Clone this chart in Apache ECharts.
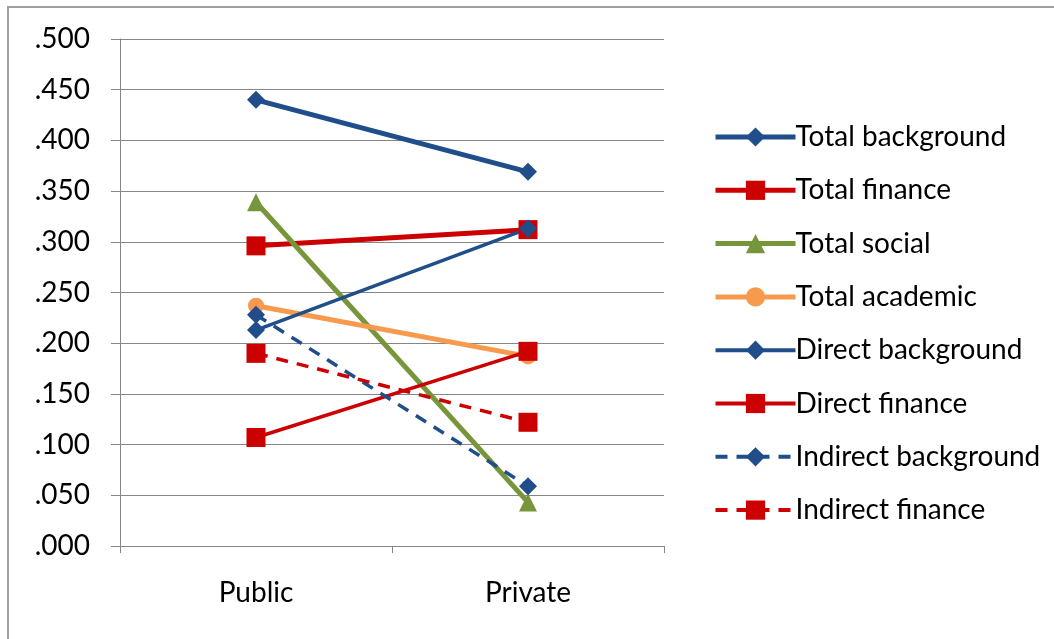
<!DOCTYPE html>
<html>
<head>
<meta charset="utf-8">
<script src="https://cdn.jsdelivr.net/npm/echarts@6/dist/echarts.min.js"></script>
<style>
  html, body { margin: 0; padding: 0; background: #fff; }
  #chart { width: 1054px; height: 639px; }
</style>
</head>
<body>
<div id="chart"></div>
<script>
// Sector categories on the x axis
const categories = ['Public', 'Private'];

// Effect sizes per sector
const totalBackground    = [0.440, 0.369];
const totalFinance       = [0.296, 0.312];
const totalSocial        = [0.339, 0.043];
const totalAcademic      = [0.237, 0.187];
const directBackground   = [0.213, 0.313];
const directFinance      = [0.107, 0.192];
const indirectBackground = [0.228, 0.059];
const indirectFinance    = [0.190, 0.122];

const seriesNames = [
  'Total background', 'Total finance', 'Total social', 'Total academic',
  'Direct background', 'Direct finance', 'Indirect background', 'Indirect finance'
];

const BLUE = '#1F4E8A';
const RED = '#CC0000';
const GREEN = '#77963C';
const ORANGE = '#F79A4E';
const FONT = 'Lato, "Open Sans", sans-serif';
const DASH = [12, 9];

function line(name, data, color, symbol, size, width, dashed) {
  return {
    name, type: 'line', data,
    symbol, symbolSize: size,
    itemStyle: { color },
    lineStyle: { color, width, type: dashed ? DASH : 'solid' },
    emphasis: { disabled: true },
    animation: false
  };
}

// Legend entries carry the same stroke weight and dash as their series
const legendWidths = [5, 5, 5, 5, 4, 4, 4, 4];
const legendDashed = [false, false, false, false, false, false, true, true];
const legendData = seriesNames.map((name, i) => ({
  name,
  lineStyle: { width: legendWidths[i], type: legendDashed[i] ? DASH : 'solid' }
}));

const chart = echarts.init(document.getElementById('chart'), null, { renderer: 'canvas' });
chart.setOption({
  backgroundColor: '#fff',
  animation: false,
  graphic: [{
    type: 'rect',
    shape: { x: 8, y: 7, width: 1100, height: 700 },
    style: { fill: 'none', stroke: '#a0a0a0', lineWidth: 2 }
  }],
  grid: { left: 120, right: 390, top: 39, bottom: 93 },
  legend: {
    orient: 'vertical',
    left: 708, top: 117,
    itemWidth: 80, itemHeight: 24,
    itemGap: 23.3,
    data: legendData,
    textStyle: { fontFamily: FONT, fontSize: 28, color: '#000', lineHeight: 30, padding: [0, 0, 0, -5] }
  },
  xAxis: {
    type: 'category',
    data: categories,
    boundaryGap: true,
    axisLine: { lineStyle: { color: '#868686', width: 1 } },
    axisTick: { show: true, length: 7, alignWithLabel: false, lineStyle: { color: '#868686' } },
    axisLabel: { fontFamily: FONT, fontSize: 28, color: '#000', margin: 33 }
  },
  yAxis: {
    type: 'value',
    min: 0, max: 0.5, interval: 0.05,
    axisLine: { show: true, lineStyle: { color: '#868686', width: 1 } },
    axisTick: { show: true, length: 9, lineStyle: { color: '#868686' } },
    splitLine: { show: true, lineStyle: { color: '#868686', width: 1 } },
    axisLabel: {
      fontFamily: FONT, fontSize: 28, color: '#000', margin: 30,
      formatter: v => v.toFixed(3).replace(/^0/, '')
    }
  },
  series: [
    line(seriesNames[0], totalBackground, BLUE, 'diamond', 18, 5, false),
    line(seriesNames[1], totalFinance, RED, 'rect', 19, 5, false),
    line(seriesNames[2], totalSocial, GREEN, 'triangle', 18, 5, false),
    line(seriesNames[3], totalAcademic, ORANGE, 'circle', 16, 5, false),
    line(seriesNames[4], directBackground, BLUE, 'diamond', 18, 3.5, false),
    line(seriesNames[5], directFinance, RED, 'rect', 19, 3.5, false),
    line(seriesNames[6], indirectBackground, BLUE, 'diamond', 18, 3.5, true),
    line(seriesNames[7], indirectFinance, RED, 'rect', 19, 3.5, true)
  ]
});
</script>
</body>
</html>
